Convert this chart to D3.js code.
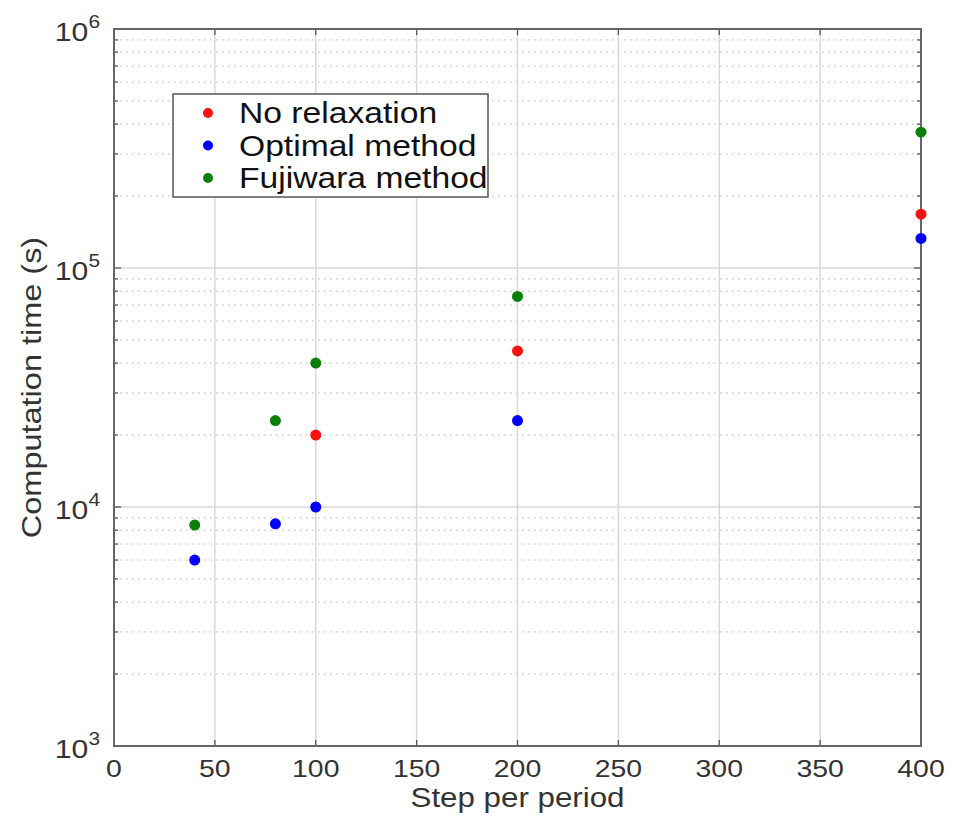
<!DOCTYPE html>
<html>
<head>
<meta charset="utf-8">
<script src="https://cdn.jsdelivr.net/npm/d3@7"></script>
<style>
  html, body { margin: 0; padding: 0; background: #fff; }
  svg { display: block; font-family: "Liberation Sans", Arial, Helvetica, sans-serif; }
</style>
</head>
<body>
<svg id="chart" width="954" height="817"></svg>
<script>
// Computation time versus steps per period, for three relaxation schemes
const noRelaxSteps = [100, 200, 400];
const noRelaxTime = [20000, 45000, 168000];
const optimalSteps = [40, 80, 100, 200, 400];
const optimalTime = [6000, 8500, 10000, 23000, 133000];
const fujiwaraSteps = [40, 80, 100, 200, 400];
const fujiwaraTime = [8400, 23000, 40000, 76000, 370000];

const xTicks = [0, 50, 100, 150, 200, 250, 300, 350, 400];
const yExponents = [3, 4, 5, 6];
const seriesNames = ["No relaxation", "Optimal method", "Fujiwara method"];
const seriesColors = ["#ff1010", "#0000ff", "#0a800a"];

const margin = { left: 114, right: 33, top: 29, bottom: 71 };
const W = 954, H = 817;
const SX = 1.16; // horizontal widening of the text face
const svg = d3.select("#chart");

const x = d3.scaleLinear().domain([0, 400]).range([margin.left, W - margin.right]);
const y = d3.scaleLog().domain([1e3, 1e6]).range([H - margin.bottom, margin.top]);

const x0 = x.range()[0], x1 = x.range()[1];
const yb = y.range()[0], yt = y.range()[1];

// minor log values 2..9 per decade
const minorVals = [];
for (let e = 3; e < 6; e++) for (let m = 2; m <= 9; m++) minorVals.push(m * Math.pow(10, e));
const majorVals = yExponents.map(e => Math.pow(10, e));

const grid = svg.append("g");
grid.selectAll("line.minor").data(minorVals).join("line")
  .attr("x1", x0).attr("x2", x1)
  .attr("y1", d => y(d)).attr("y2", d => y(d))
  .attr("stroke", "#b0b0b0").attr("stroke-width", 1)
  .attr("stroke-dasharray", "1.5,4.5");
grid.selectAll("line.majorY").data(majorVals).join("line")
  .attr("x1", x0).attr("x2", x1)
  .attr("y1", d => y(d)).attr("y2", d => y(d))
  .attr("stroke", "#d8d8d8").attr("stroke-width", 1.5);
grid.selectAll("line.majorX").data(xTicks).join("line")
  .attr("x1", d => x(d)).attr("x2", d => x(d))
  .attr("y1", yt).attr("y2", yb)
  .attr("stroke", "#d8d8d8").attr("stroke-width", 1.5);

// ticks (inward) on all four sides
const ticks = svg.append("g").attr("stroke", "#555").attr("stroke-width", 1.3);
xTicks.forEach(v => {
  ticks.append("line").attr("x1", x(v)).attr("x2", x(v)).attr("y1", yb).attr("y2", yb - 6);
  ticks.append("line").attr("x1", x(v)).attr("x2", x(v)).attr("y1", yt).attr("y2", yt + 6);
});
majorVals.forEach(v => {
  ticks.append("line").attr("x1", x0).attr("x2", x0 + 7).attr("y1", y(v)).attr("y2", y(v));
  ticks.append("line").attr("x1", x1).attr("x2", x1 - 7).attr("y1", y(v)).attr("y2", y(v));
});
minorVals.forEach(v => {
  ticks.append("line").attr("x1", x0).attr("x2", x0 + 4).attr("y1", y(v)).attr("y2", y(v));
  ticks.append("line").attr("x1", x1).attr("x2", x1 - 4).attr("y1", y(v)).attr("y2", y(v));
});

// axis frame
svg.append("rect")
  .attr("x", x0).attr("y", yt).attr("width", x1 - x0).attr("height", yb - yt)
  .attr("fill", "none").attr("stroke", "#666").attr("stroke-width", 2);

// text placed at (tx, ty), widened horizontally
function wideText(parent, tx, ty, rot) {
  return parent.append("g")
    .attr("transform", `translate(${tx},${ty})${rot ? ` rotate(${rot})` : ""} scale(${SX},1)`)
    .append("text");
}

// x tick labels
const xl = svg.append("g");
xTicks.forEach(v => {
  wideText(xl, x(v), yb + 31).attr("text-anchor", "middle")
    .attr("font-size", 24.5).attr("fill", "#333").text(v);
});

// y tick labels 10^n
const ylg = svg.append("g");
yExponents.forEach(e => {
  const t = wideText(ylg, x0 - 14, y(Math.pow(10, e)) + 12)
    .attr("text-anchor", "end").attr("font-size", 26).attr("fill", "#333");
  t.append("tspan").text("10");
  t.append("tspan").attr("dy", -13).attr("font-size", 18).text(e);
});

// axis titles
wideText(svg, (x0 + x1) / 2, 807).attr("text-anchor", "middle")
  .attr("font-size", 27).attr("fill", "#333").text("Step per period");
wideText(svg, 41, (yt + yb) / 2, -90).attr("text-anchor", "middle")
  .attr("font-size", 28).attr("fill", "#333").text("Computation time (s)");

// data points
const series = [
  { steps: noRelaxSteps, time: noRelaxTime },
  { steps: optimalSteps, time: optimalTime },
  { steps: fujiwaraSteps, time: fujiwaraTime }
];
series.forEach((s, i) => {
  svg.append("g").selectAll("circle").data(s.steps.map((d, j) => [d, s.time[j]])).join("circle")
    .attr("cx", d => x(d[0])).attr("cy", d => y(d[1])).attr("r", 5.5)
    .attr("fill", seriesColors[i]);
});

// legend
const lg = svg.append("g");
lg.append("rect").attr("x", 173).attr("y", 94).attr("width", 315).attr("height", 103)
  .attr("fill", "#fff").attr("stroke", "#555").attr("stroke-width", 1.5);
seriesNames.forEach((n, i) => {
  const cy = 113 + i * 32.5;
  lg.append("circle").attr("cx", 208).attr("cy", cy).attr("r", 5).attr("fill", seriesColors[i]);
  wideText(lg, 239, cy + 10).attr("font-size", 29).attr("fill", "#111").text(n);
});
</script>
</body>
</html>
